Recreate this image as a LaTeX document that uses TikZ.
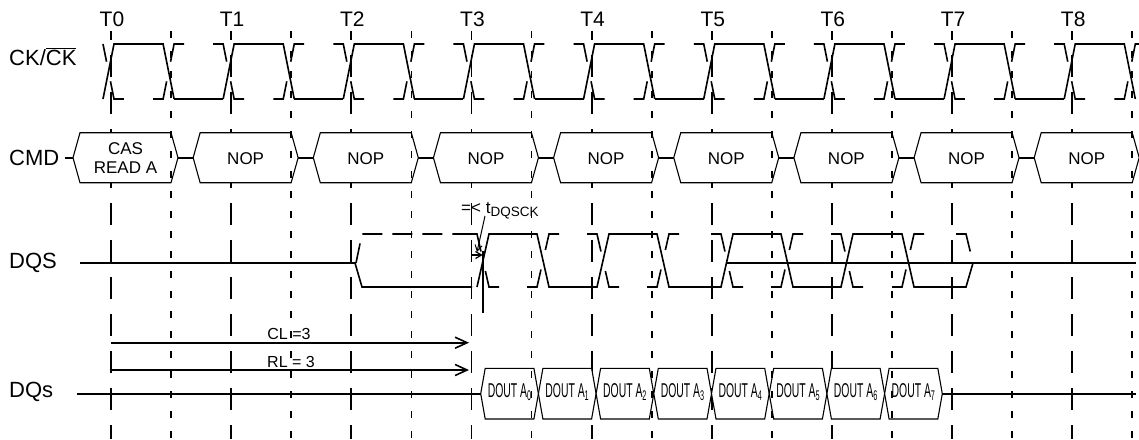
\documentclass[tikz,border=0pt]{standalone}
\usepackage{graphicx}
\usepackage{fontspec}
\setmainfont{Liberation Sans}
\usetikzlibrary{arrows.meta}

\begin{document}
\begin{tikzpicture}[x=1pt,y=-1pt,
    sig/.style={line width=1.6pt},
    compl/.style={line width=1.6pt,dash pattern=on 28pt off 20pt},
    tick/.style={line width=1.8pt,dash pattern=on 22pt off 15pt,dash phase=13pt},
    half/.style={line width=1.8pt,dash pattern=on 7pt off 13pt},
    bus/.style={draw,fill=white,line width=1.1pt},
    lbl/.style={inner sep=0,anchor=base west,font=\fontsize{22}{24}\selectfont},
    tlbl/.style={inner sep=0,anchor=base,font=\fontsize{21}{24}\selectfont},
    cmdtxt/.style={inner sep=0,align=center,font=\fontsize{17}{19}\selectfont},
    dtxt/.style={inner sep=0,font=\fontsize{20}{20}\selectfont},
    ann/.style={inner sep=0,anchor=base,font=\fontsize{16}{18}\selectfont},
    small/.style={>={Straight Barb[length=6pt,width=7pt]}},
    >={Straight Barb[length=12pt,width=11pt]}]
\useasboundingbox[fill=white] (0,0) rectangle (1139,439);

% clock edges T0..T8
\foreach \i in {0,...,8} {
  \pgfmathsetmacro{\tx}{111+120.15*\i}
  \node[tlbl] (T\i) at (\tx+1,27) {T\i};
  \draw[tick] (\tx,31) -- (\tx,439);
}

% signal names
\node[lbl] (ck) at (9,65) {CK/$\overline{\mbox{CK}}$};
\node[lbl] (cmd) at (9,165) {CMD};
\node[lbl] (dqs) at (9,268) {DQS};
\node[lbl] (dq) at (9,397) {DQs};

% command bus
\draw[sig] (65,157.7) -- (1139,157.7);
\foreach \i/\txt in {0/{CAS\\READ A},1/NOP,2/NOP,3/NOP,4/NOP,5/NOP,6/NOP,7/NOP,8/NOP} {
  \pgfmathsetmacro{\tx}{111+120.15*\i}
  \draw[bus] (\tx-38,157.7) -- (\tx-31,132.7) -- (\tx+60,132.7) -- (\tx+67,157.7)
    -- (\tx+60,182.7) -- (\tx-31,182.7) -- cycle;
  \node[cmdtxt] (c\i) at (\tx+14.5,158.5) {\txt};
}

% data bus
\draw[sig] (77,393.7) -- (1136,393.7);
\foreach \i in {0,...,7} {
  \pgfmathsetmacro{\lx}{480.7+57.7*\i}
  \draw[bus] (\lx,393.7) -- (\lx+4.5,368.3) -- (\lx+53.2,368.3) -- (\lx+57.7,393.7)
    -- (\lx+53.2,419) -- (\lx+4.5,419) -- cycle;
  \node[dtxt] (d\i) at (\lx+28.85,392) {\scalebox{0.52}[1]{DOUT A\textsubscript{\i}}};
}

% half clock lines
\foreach \i in {0,...,8} {
  \pgfmathsetmacro{\dx}{171.1+120.15*\i}
  \draw[half] (\dx,31) -- (\dx,439);
}

% CK and CK#
\foreach \i in {0,...,8} {
  \pgfmathsetmacro{\tx}{111+120.15*\i}
  \pgfmathsetmacro{\dx}{\tx+60.1}
  \draw[sig] (\tx-8,99) -- (\tx+3,44) -- (\dx-8,44) -- (\dx+3,99);
  \draw[compl] (\dx-18,99) -- (\dx-8,99) -- (\dx+3,44) -- (\dx+13,44);
}
\foreach \i in {0,...,7} {
  \pgfmathsetmacro{\dx}{171.1+120.15*\i}
  \draw[sig] (\dx+3,99) -- (\dx+52.05,99);
}
\foreach \i in {1,...,8} {
  \pgfmathsetmacro{\tx}{111+120.15*\i}
  \draw[compl] (\tx-18,44) -- (\tx-8,44) -- (\tx+3,99) -- (\tx+13,99);
}
\draw[compl,dash phase=10pt] (103,44) -- (114,99) -- (124,99);

% DQS
\draw[sig] (80,263) -- (355,263) -- (362,287) -- (472,287);
\draw[sig] (477,287) -- (489,234) -- (537,234) -- (549,287) -- (597,287) -- (609,234)
  -- (657,234) -- (669,287) -- (721,287) -- (733,234) -- (781,234) -- (793,287)
  -- (841,287) -- (853,234) -- (902,234) -- (914,287) -- (966,287) -- (973,263);
\draw[sig] (727,263) -- (1136,263);
\draw[compl,dash pattern=on 20pt off 10pt] (356,263) -- (362,234) -- (472,234);
\foreach \c/\a/\b in {483/234/287,543/287/234,603/234/287,663/287/234,
                      727/234/287,787/287/234,847/234/287,908/287/234} {
  \draw[compl] (\c-16,\a) -- (\c-6,\a) -- (\c+6,\b) -- (\c+16,\b);
}
\draw[compl] (956,234) -- (966,234) -- (973,263);

% tDQSCK
\node[inner sep=0,anchor=base west,font=\fontsize{17}{18}\selectfont] (dqsck) at (461,213)
  {=< t\raisebox{-3pt}{\fontsize{13.5}{14}\selectfont DQSCK}};
\coordinate (dqsckfrom) at (485,216);
\coordinate (dqsckto) at (477,252);
\coordinate (t3mark) at (471.5,255);
\coordinate (dqsedge) at (482.7,255);
\draw[->,small,line width=1pt] (dqsckfrom) -- (dqsckto);
\draw[->,small,line width=1.2pt] (t3mark) -- (dqsedge);
\draw[sig] (482.7,251) -- (482.7,313);

% latencies
\coordinate (cla) at (111,342.7);
\coordinate (clb) at (469,342.7);
\coordinate (rla) at (111,370);
\coordinate (rlb) at (469,370);
\draw[->,sig] (cla) -- (clb);
\draw[->,sig] (rla) -- (rlb);
\node[ann] (cl) at (289,339) {CL =3};
\node[ann] (rl) at (291,367) {RL = 3};
\end{tikzpicture}
\end{document}
